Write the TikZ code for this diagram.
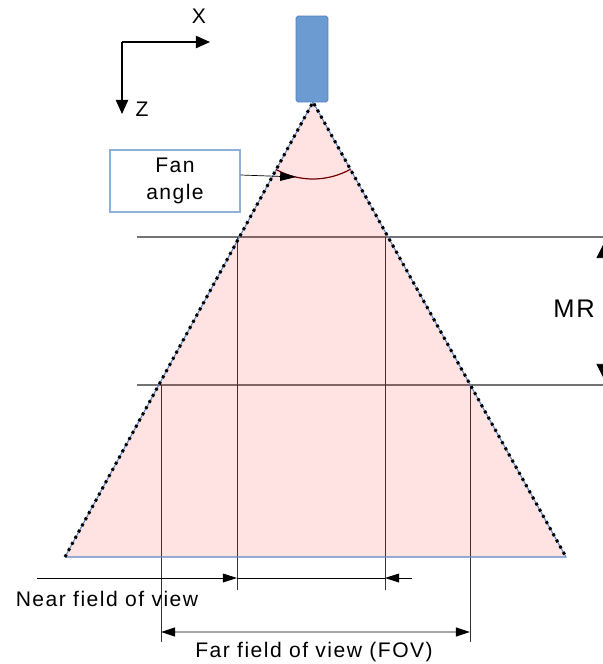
\documentclass[tikz,border=0pt]{standalone}
\usepackage{fontspec}
\setmainfont{Liberation Sans}
\newfontfamily\widefont[LetterSpace=7]{Liberation Sans}
\usetikzlibrary{positioning, arrows.meta}

\definecolor{sensorblue}{HTML}{6C9BD2}
\definecolor{sensorline}{HTML}{4E7FBF}
\definecolor{boxline}{HTML}{8FB0D9}
\definecolor{edgeblue}{HTML}{5B86C5}

\begin{document}
\begin{tikzpicture}[
        x=0.02cm, y=-0.02cm,
        every node/.style={font=\fontsize{10.5}{12.5}\selectfont},
        lbl/.style={font=\widefont\fontsize{12}{15}\selectfont},
        sensor/.style={rectangle, draw=sensorline, fill=sensorblue, rounded corners=1pt, minimum width=0.64cm, minimum height=1.72cm},
        fanbox/.style={rectangle, draw=boxline, thick, minimum width=2.6cm, minimum height=1.24cm, align=center, lbl},
        guide/.style={draw=black!55, line width=0.6pt},
        drop/.style={draw=black!80, line width=0.5pt},
        axis/.style={-{Triangle[length=8pt, width=7pt]}, line width=0.7pt},
        dim/.style={-{Triangle[length=8pt, width=5pt]}, line width=0.5pt},
        fan/.style={fill=red, fill opacity=0.11},
        fanedge/.style={draw=black, line width=1.7pt, dash pattern=on 1.6pt off 2.4pt},
    ]
    \useasboundingbox (0,0) rectangle (603,664);

    % axes
    \coordinate (origin) at (122,42);
    \coordinate (xend) at (210,42);
    \coordinate (zend) at (122,114);
    \draw[axis] (origin) -- (xend);
    \draw[axis] (origin) -- (zend);
    \node[lbl] (xlbl) at (199,16) {X};
    \node[lbl] (zlbl) at (142,109) {Z};

    % range lines
    \coordinate (nearstart) at (137,237);
    \coordinate (nearend) at (603,237);
    \coordinate (farstart) at (137,385);
    \coordinate (farend) at (603,385);
    \draw[guide] (nearstart) -- (nearend);
    \draw[guide] (farstart) -- (farend);

    % drop lines
    \coordinate (nearL) at (237,237);
    \coordinate (nearR) at (385,237);
    \coordinate (farL) at (161,385);
    \coordinate (farR) at (470,385);
    \coordinate (nearLb) at (237,590);
    \coordinate (nearRb) at (385,590);
    \coordinate (farLb) at (161,642);
    \coordinate (farRb) at (470,642);
    \draw[drop] (nearL) -- (nearLb);
    \draw[drop] (nearR) -- (nearRb);
    \draw[drop] (farL) -- (farLb);
    \draw[drop] (farR) -- (farRb);

    % fan
    \coordinate (apex) at (313,102);
    \coordinate (baseL) at (65,557);
    \coordinate (baseR) at (566,557);
    \fill[fan] (apex) -- (baseL) -- (baseR) -- cycle;
    \draw[edgeblue, line width=0.6pt] (baseL) -- (apex) -- (baseR) -- (baseL);
    \draw[fanedge] (baseL) -- (apex) -- (baseR);

    \node[sensor] (sensor) at (312,59) {};

    % fan angle
    \draw[red!45!black, line width=0.7pt] (apex) ++(118.6:77) arc[start angle=118.6, end angle=61, radius=77];
    \node[fanbox] (fanbox) at (175,181) {Fan\\angle};
    \coordinate (fantip) at (296,177);
    \draw[-{Triangle[length=9pt, width=5pt]}, line width=0.4pt] (fanbox.east |- 0,175) -- (fantip);

    % MR
    \node[font=\widefont\fontsize{14.5}{16}\selectfont] (mr) at (574,309) {MR};
    \coordinate (mrtop) at (607,237);
    \coordinate (mrbot) at (607,385);
    \draw[{Triangle[length=12pt, width=12pt]}-{Triangle[length=12pt, width=12pt]}, line width=0.4pt] (mrtop) -- (mrbot);

    % near field of view
    \coordinate (nearA) at (37,578);
    \coordinate (nearB) at (237,578);
    \coordinate (nearC) at (385,578);
    \coordinate (nearD) at (412,578);
    \draw[dim] (nearA) -- (nearB);
    \draw[line width=0.5pt] (nearB) -- (nearC);
    \draw[dim] (nearD) -- (nearC);
    \node[lbl] (nearlbl) at (107,599) {Near field of view};

    % far field of view
    \coordinate (farA) at (161,632);
    \coordinate (farB) at (470,632);
    \draw[{Triangle[length=8pt, width=5pt, color=black]}-{Triangle[length=8pt, width=5pt, color=black]}, draw=black!35, line width=1pt] (farA) -- (farB);
    \node[lbl] (farlbl) at (314,652) {Far field of view (FOV)};
\end{tikzpicture}
\end{document}
